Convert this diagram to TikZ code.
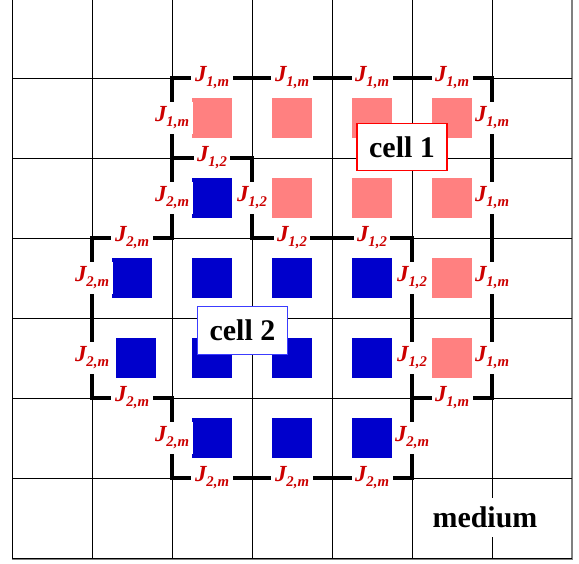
\documentclass[tikz,border=0pt]{standalone}
\usepackage{fontspec}
\setmainfont{Liberation Serif}
\usepackage{tikz}
\definecolor{cellpink}{RGB}{255,128,128}
\definecolor{cellblue}{RGB}{0,0,204}
\definecolor{labred}{RGB}{204,0,0}
\definecolor{boxblue}{RGB}{60,60,255}
\newcommand{\coup}[1]{\textit{J}\kern-0.5pt\raisebox{-3.5pt}{\fontsize{10.5}{10.5}\selectfont\textit{#1}}}

\begin{document}
\begin{tikzpicture}[scale=2,
    gridline/.style={line width=0.7pt},
    wall/.style={line width=2.8pt, line join=miter},
    pinksq/.style={fill=cellpink},
    bluesq/.style={fill=cellblue},
    coupling/.style={fill=white, inner xsep=2.5pt, inner ysep=3.3pt, text=labred, font=\fontsize{16.4}{16.4}\selectfont\bfseries},
    celltag/.style={draw, fill=white, line width=0.8pt, font=\fontsize{21.3}{21.3}\selectfont\bfseries, minimum width=64pt, minimum height=34pt, inner sep=0pt}]
    \useasboundingbox (-0.15,-0.0625) rectangle (7.0875,6.975);
    \draw[gray, line width=1.4pt] (0,-0.012) -- (7,-0.012) -- (7,6.975);
    \foreach \x in {0,...,6} {\draw[gridline] (\x,0) -- (\x,6.975);}
    \foreach \y in {0,...,6} {\draw[gridline] (0,\y) -- (7,\y);}
    \foreach \c/\r in {2/5,3/5,4/5,5/5,3/4,4/4,5/4,5/3,5/2} {\fill[pinksq] (\c+0.25,\r+0.25) rectangle +(0.5,0.5);}
    \foreach \c/\r in {2/4,1/3,2/3,3/3,4/3,1.05/2,2/2,3/2,4/2,2/1,3/1,4/1} {\fill[bluesq] (\c+0.25,\r+0.25) rectangle +(0.5,0.5);}
    \draw[wall] (2,6) -- (6,6) -- (6,2) -- (5,2) -- (5,4) -- (3,4) -- (3,5) -- (2,5) -- cycle;
    \draw[wall] (2,5) -- (3,5) -- (3,4) -- (5,4) -- (5,1) -- (2,1) -- (2,2) -- (1,2) -- (1,4) -- (2,4) -- cycle;
    \foreach \x/\y [count=\i] in {2.5/6,3.5/6,4.5/6,5.5/6,2/5.5,6/5.5,6/4.5,6/3.5,6/2.5,5.5/2}
        {\node[coupling] (one\i) at (\x,\y) {\coup{1,m}};}
    \foreach \x/\y [count=\i] in {2.5/5,3/4.5,3.5/4,4.5/4,5/3.5,5/2.5}
        {\node[coupling] (mix\i) at (\x,\y) {\coup{1,2}};}
    \foreach \x/\y [count=\i] in {2/4.5,1.5/4,1/3.5,1/2.5,1.5/2,2/1.5,2.5/1,3.5/1,4.5/1,5/1.5}
        {\node[coupling] (two\i) at (\x,\y) {\coup{2,m}};}
    \node[celltag, draw=red] (cellone) at (4.875,5.1375) {cell 1};
    \node[celltag, draw=boxblue] (celltwo) at (2.881,2.844) {cell 2};
    \node[fill=white, inner xsep=4pt, inner ysep=6.5pt, font=\fontsize{21.3}{21.3}\selectfont\bfseries] (medium) at (5.9125,0.506) {medium};
\end{tikzpicture}
\end{document}
